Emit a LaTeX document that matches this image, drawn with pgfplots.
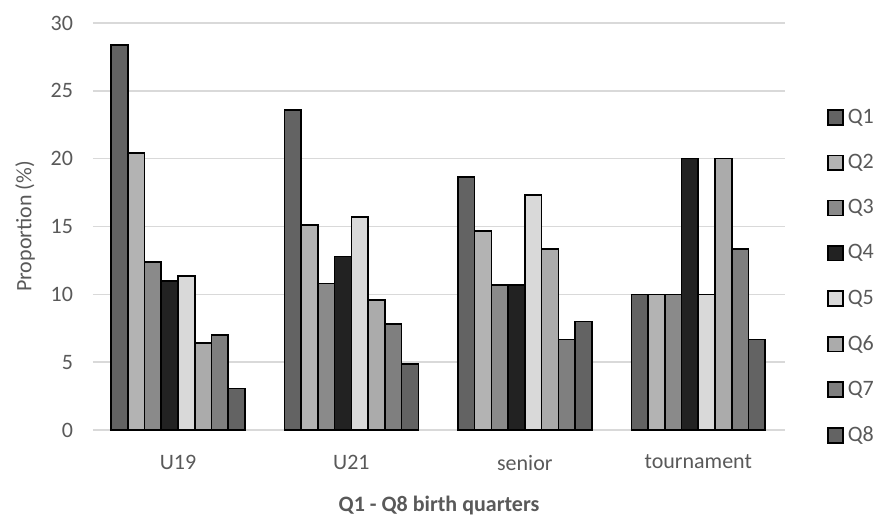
\documentclass[border=0pt]{standalone}
\usepackage{pgfplots}
\pgfplotsset{compat=1.18}
\usepackage{fontspec}
\setmainfont{Carlito}
\definecolor{txt}{HTML}{595959}
\definecolor{grd}{HTML}{D9D9D9}
\definecolor{cQa}{HTML}{636363}
\definecolor{cQb}{HTML}{B3B3B3}
\definecolor{cQc}{HTML}{8A8A8A}
\definecolor{cQd}{HTML}{222222}
\definecolor{cQe}{HTML}{D9D9D9}
\definecolor{cQf}{HTML}{ABABAB}
\definecolor{cQg}{HTML}{7F7F7F}
\definecolor{cQh}{HTML}{636363}
\begin{document}
\begin{tikzpicture}
\begin{axis}[
    scale only axis,
    width=346pt, height=203.5pt,
    ybar=0pt,
    bar width=0.0965,
    xmin=-0.49, xmax=3.5,
    ymin=0, ymax=30,
    ytick={0,5,...,30},
    xtick={0,1,2,3},
    xticklabels={U19,U21,senior,tournament},
    axis line style={draw=none},
    major tick length=0pt,
    ymajorgrids,
    grid style={grd, line width=0.8pt},
    tick label style={font=\fontsize{11}{13}\selectfont, text=txt},
    yticklabel style={xshift=-6.5pt},
    xticklabel style={yshift=-9pt},
    /pgf/number format/assume math mode=true,
    ylabel={Proportion (\%)},
    ylabel style={font=\fontsize{11}{13}\selectfont, text=txt, yshift=1pt},
    xlabel={\textbf{Q1 - Q8 birth quarters}},
    xlabel style={font=\fontsize{11}{13}\selectfont, text=txt, yshift=-6pt},
    legend style={draw=none, at={(1.0607,0.80)}, anchor=north west,
        font=\fontsize{11}{13}\selectfont, text=txt,
        row sep=10pt, inner sep=0pt},
    legend cell align=left,
    legend image code/.code={\draw[#1, line width=0.8pt] (0pt,-3.7pt) rectangle (7.4pt,3.7pt);},
    every axis plot/.append style={draw=black, line width=0.8pt},
    clip=false,
]
\draw[grd, line width=0.8pt] (axis cs:-0.49,0) -- (axis cs:3.5,0);
\addplot[fill=cQa] coordinates {(0,28.4) (1,23.6) (2,18.67) (3,10)};
\addplot[fill=cQb] coordinates {(0,20.4) (1,15.1) (2,14.67) (3,10)};
\addplot[fill=cQc] coordinates {(0,12.4) (1,10.8) (2,10.67) (3,10)};
\addplot[fill=cQd] coordinates {(0,11.0) (1,12.8) (2,10.67) (3,20)};
\addplot[fill=cQe] coordinates {(0,11.35) (1,15.7) (2,17.33) (3,10)};
\addplot[fill=cQf] coordinates {(0,6.4) (1,9.6) (2,13.33) (3,20)};
\addplot[fill=cQg] coordinates {(0,7.0) (1,7.8) (2,6.67) (3,13.33)};
\addplot[fill=cQh] coordinates {(0,3.07) (1,4.85) (2,8.0) (3,6.67)};
\legend{Q1,Q2,Q3,Q4,Q5,Q6,Q7,Q8}
\end{axis}
\pgfresetboundingbox
\path (-46.5pt,-43pt) rectangle (391pt,215pt);
\end{tikzpicture}
\end{document}
